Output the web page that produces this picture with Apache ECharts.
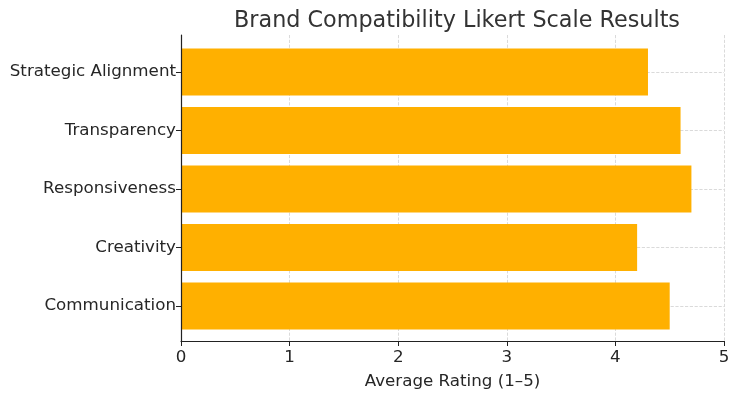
<!DOCTYPE html>
<html><head><meta charset="utf-8">
<script src="https://cdn.jsdelivr.net/npm/echarts@6/dist/echarts.min.js"></script>
<style>html,body{margin:0;padding:0;background:#fff}#c{width:739px;height:397px}</style>
</head><body><div id="c"></div>
<script>
const title = 'Brand Compatibility Likert Scale Results';
const categories = ['Strategic Alignment', 'Transparency', 'Responsiveness', 'Creativity', 'Communication'];
const ratings = [4.3, 4.6, 4.7, 4.2, 4.5];
const xTicks = [0, 1, 2, 3, 4, 5];
const xName = 'Average Rating (1–5)';

const font = 'DejaVu Sans';
const chart = echarts.init(document.getElementById('c'), null, {renderer: 'canvas'});
chart.setOption({
  animation: false,
  title: {text: title, left: 452, top: 5, textAlign: 'center',
    textStyle: {fontFamily: font, fontSize: 22.3, fontWeight: 'normal', color: '#333'}},
  grid: [
    {left: 181, right: 15, top: 35, bottom: 56},
    {left: 181, right: 15, top: 72, bottom: 91}
  ],
  xAxis: [
    {gridIndex: 0, type: 'value', min: xTicks[0], max: xTicks[xTicks.length - 1], interval: 1,
      axisLine: {show: true, lineStyle: {color: '#222', width: 1.2}},
      axisTick: {show: true, length: 5, lineStyle: {color: '#222'}},
      axisLabel: {fontFamily: font, fontSize: 16.7, color: '#262626', margin: 8},
      splitLine: {show: true, lineStyle: {color: '#d0d0d0', type: 'dashed', width: 0.8}},
      name: xName, nameLocation: 'middle', nameGap: 32,
      nameTextStyle: {fontFamily: font, fontSize: 16.7, color: '#262626'}},
    {gridIndex: 1, type: 'value', min: 0, max: 5, show: false}
  ],
  yAxis: [
    {gridIndex: 0, type: 'value', min: 0, max: 1, z: 5,
      axisLine: {show: true, lineStyle: {color: '#222', width: 1.2}},
      axisTick: {show: false}, axisLabel: {show: false}, splitLine: {show: false}},
    {gridIndex: 1, type: 'category', data: categories, inverse: true, boundaryGap: false,
      axisLine: {show: false},
      axisTick: {show: true, length: 5, lineStyle: {color: '#222'}},
      axisLabel: {fontFamily: font, fontSize: 16.7, color: '#262626', margin: 5},
      splitLine: {show: true, lineStyle: {color: '#d0d0d0', type: 'dashed', width: 0.8}}}
  ],
  series: [{
    type: 'bar', xAxisIndex: 1, yAxisIndex: 1, data: ratings,
    barWidth: 47, clip: false,
    itemStyle: {color: '#ffb000'}
  }]
});
</script></body></html>
